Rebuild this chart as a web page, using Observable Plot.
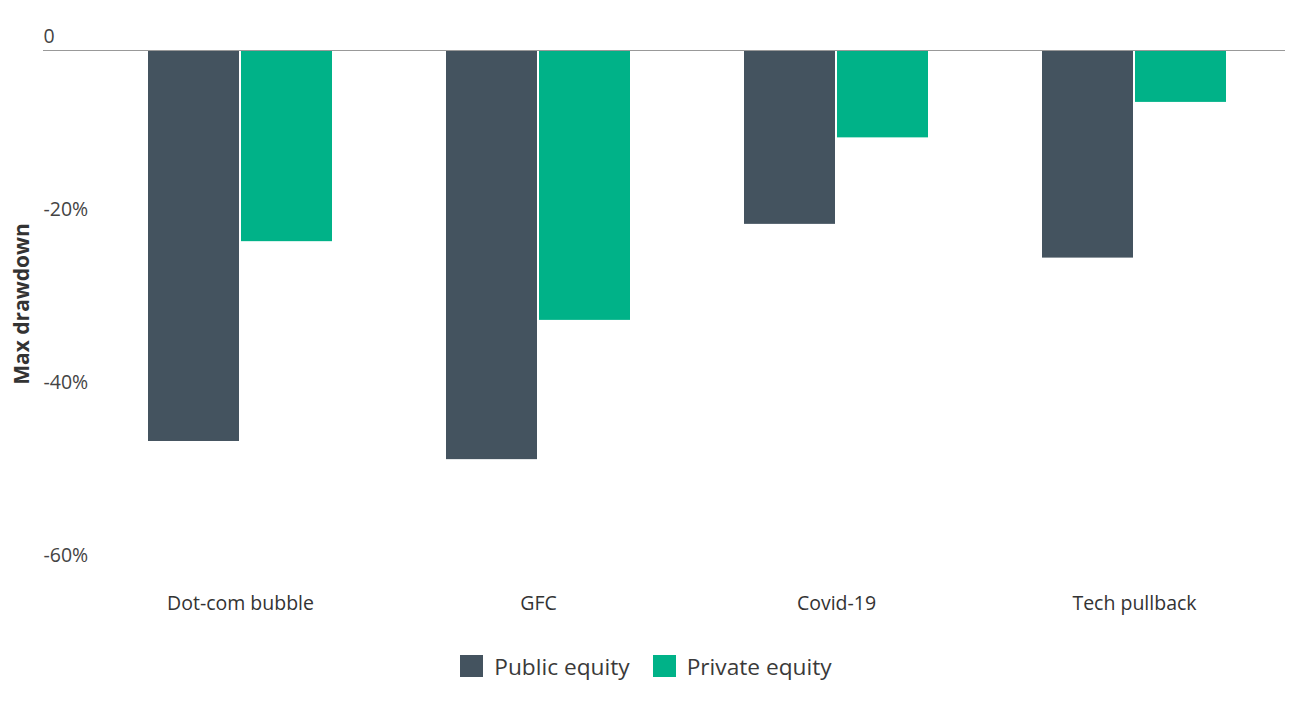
<!DOCTYPE html>
<html>
<head>
<meta charset="utf-8">
<script src="https://cdn.jsdelivr.net/npm/d3@7"></script>
<script src="https://cdn.jsdelivr.net/npm/@observablehq/plot@0.6"></script>
<style>
  html, body { margin: 0; padding: 0; background: #fff; }
  #chart { width: 1314px; }
  .legend { display: flex; justify-content: center; align-items: center; gap: 23px; margin-top: 31px; padding-right: 22px;
            height: 30px; font-family: "Open Sans", sans-serif; font-size: 22.7px; color: #3a3a3a; }
  .legend span.item { display: flex; align-items: center; }
  .legend span.sw { display: inline-block; width: 23px; height: 22px; margin-right: 11px; }
</style>
</head>
<body>
<div id="chart"></div>
<script>
const categories = ["Dot-com bubble", "GFC", "Covid-19", "Tech pullback"];
const series = ["Public equity", "Private equity"];
const publicEquity = [-45.2, -47.3, -20.1, -24.0];
const privateEquity = [-22.1, -31.2, -10.1, -6.0];
const yTicks = [0, -20, -40, -60];
const yTickLabels = ["0", "-20%", "-40%", "-60%"];
const colors = ["#44535f", "#00b288"];

const data = [];
categories.forEach((c, i) => {
  data.push({category: c, series: series[0], value: publicEquity[i]});
  data.push({category: c, series: series[1], value: privateEquity[i]});
});

const font = "'Open Sans', sans-serif";
const plot = Plot.plot({
  width: 1314,
  height: 620,
  marginLeft: 43,
  marginRight: 29,
  marginTop: 50,
  marginBottom: 51,
  style: {fontFamily: font, background: "#fff"},
  x: {domain: categories, range: [90, 1283], paddingInner: 0.383, paddingOuter: 0.19, axis: null},
  y: {domain: [-60, 0], axis: null},
  color: {domain: series, range: colors},
  marks: [
    Plot.barY(data.filter(d => d.series === series[0]), {x: "category", y: "value", fill: "series", insetRight: 93}),
    Plot.barY(data.filter(d => d.series === series[1]), {x: "category", y: "value", fill: "series", insetLeft: 93}),
    Plot.ruleY([0], {stroke: "#999", strokeWidth: 1.2}),
    Plot.text(yTicks, {y: d => d, text: (d, i) => yTickLabels[i], frameAnchor: "left", textAnchor: "start", dy: -13.5, fontSize: 19.5, fill: "#444"}),
    Plot.text(categories, {x: d => d, text: d => d, frameAnchor: "bottom", dy: 40, fontSize: 19.5, fill: "#333"}),
    Plot.text(["Max drawdown"], {text: d => d, frameAnchor: "left", textAnchor: "middle", dx: -21, rotate: -90, fontSize: 21, fontWeight: "bold", fill: "#333", y: () => -29.3})
  ]
});
document.getElementById("chart").appendChild(plot);

const legend = document.createElement("div");
legend.className = "legend";
series.forEach((s, i) => {
  const item = document.createElement("span");
  item.className = "item";
  const sw = document.createElement("span");
  sw.className = "sw";
  sw.style.background = colors[i];
  item.appendChild(sw);
  item.appendChild(document.createTextNode(s));
  legend.appendChild(item);
});
document.getElementById("chart").appendChild(legend);
</script>
</body>
</html>
